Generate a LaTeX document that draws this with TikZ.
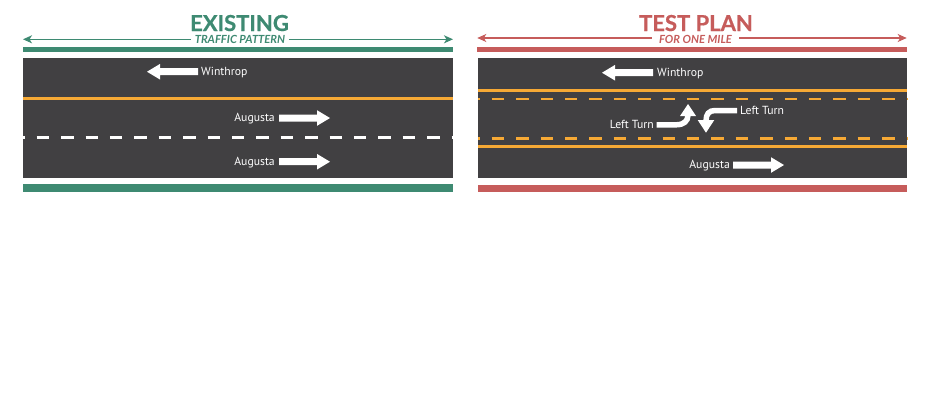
\documentclass[tikz,border=0pt]{standalone}
\usepackage{fontspec}
\setmainfont{PT Sans}
\newfontfamily\titlefont{Lato}
\newfontfamily\titleheavy{Lato}[BoldFeatures={FakeBold=0.6}]
\usetikzlibrary{arrows.meta}
\definecolor{road}{HTML}{414042}
\definecolor{exgreen}{HTML}{3E8A72}
\definecolor{tpred}{HTML}{C65C5B}
\definecolor{lineyel}{HTML}{F6A935}
\tikzset{
  lbl/.style={text=white, font=\fontsize{11.7}{12}\selectfont, inner sep=0pt},
  ttl/.style={font=\titleheavy\bfseries\fontsize{22}{24}\selectfont, inner sep=0pt, text depth=0pt},
  subttl/.style={font=\titlefont\bfseries\itshape\fontsize{11.2}{12}\selectfont, inner sep=0pt, text height=7.8pt, text depth=0pt},
  hdrline/.style={line width=1.1pt, -{Stealth[length=9pt,width=8pt,inset=2.5pt]}},
  rightarrow/.pic={\fill[white] (0,-3.5) -- (38,-3.5) -- (38,-7.8) -- (51,0) -- (38,7.8) -- (38,3.5) -- (0,3.5) -- cycle;},
  leftarrow/.pic={\fill[white] (0,-3.5) -- (-38,-3.5) -- (-38,-7.8) -- (-51,0) -- (-38,7.8) -- (-38,3.5) -- (0,3.5) -- cycle;},
  solidyel/.style={draw=lineyel, line width=2.7pt},
  dashyel/.style={draw=lineyel, line width=2.7pt, dash pattern=on 12.5pt off 11.9pt, dash phase=10.7pt},
  dashwht/.style={draw=white, line width=2.7pt, dash pattern=on 12.5pt off 11.9pt, dash phase=10.7pt},
  turnshaft/.style={draw=white, line width=5.5pt},
}
\begin{document}
\begin{tikzpicture}[x=1pt, y=-1pt]
\useasboundingbox[fill=white] (0,0) rectangle (930,400);

% ================= EXISTING =================
\node[ttl, text=exgreen, anchor=base] (ex) at (239.5,31) {EXISTING};
\node[subttl, text=exgreen, anchor=base, inner xsep=3.5pt] (tp) at (240,43.5) {TRAFFIC PATTERN};
\coordinate (exl) at (23,39.3);
\coordinate (exr) at (453,39.3);
\draw[hdrline, draw=exgreen, color=exgreen] (tp.west |- exl) -- (exl);
\draw[hdrline, draw=exgreen, color=exgreen] (tp.east |- exr) -- (exr);
\fill[exgreen] (23,46.7) rectangle (453,51.7);
\fill[road] (23,58) rectangle (453,178.3);
\fill[exgreen] (23,184) rectangle (453,192.3);
\draw[solidyel] (23,98.7) -- (453,98.7);
\draw[dashwht] (23,137.7) -- (453,137.7);

\pic at (198,71.7) {leftarrow};
\node[lbl, anchor=base west] (win1) at (201,75.6) {Winthrop};
\pic at (279,118) {rightarrow};
\node[lbl, anchor=base east] (aug1) at (275,121.9) {Augusta};
\pic at (279,161.7) {rightarrow};
\node[lbl, anchor=base east] (aug2) at (275,165.6) {Augusta};

% ================= TEST PLAN =================
\node[ttl, text=tpred, anchor=base] (tpl) at (696,31) {TEST PLAN};
\node[subttl, text=tpred, anchor=base, inner xsep=7pt] (om) at (695.5,43.3) {FOR ONE MILE};
\coordinate (tpa) at (477.3,38);
\coordinate (tpb) at (906.7,38);
\draw[hdrline, draw=tpred, color=tpred] (om.west |- tpa) -- (tpa);
\draw[hdrline, draw=tpred, color=tpred] (om.east |- tpb) -- (tpb);
\fill[tpred] (477.3,46.7) rectangle (906.7,52.3);
\fill[road] (478,58) rectangle (907,178.3);
\fill[tpred] (478,185) rectangle (907,192.3);
\draw[solidyel] (478,90.7) -- (907,90.7);
\draw[dashyel] (478,99) -- (907,99);
\draw[dashyel] (478,138.3) -- (907,138.3);
\draw[solidyel] (478,146.3) -- (907,146.3);

\pic at (653,72.7) {leftarrow};
\node[lbl, anchor=base west] (win2) at (657,76.6) {Winthrop};
\pic at (733,165) {rightarrow};
\node[lbl, anchor=base east] (aug3) at (730,168.9) {Augusta};

% left turn arrows
\node[lbl, anchor=base east] (lt1) at (654,128.5) {Left Turn};
\draw[turnshaft] (656.5,124.8) -- (676,124.8) .. controls (684,124.8) and (688,121) .. (688,115);
\fill[white] (680,116) -- (696,116) -- (688,104) -- cycle;
\node[lbl, anchor=base west] (lt2) at (740,114.5) {Left Turn};
\draw[turnshaft] (737,110.5) -- (715,110.5) .. controls (709,110.5) and (706,114) .. (706,121);
\fill[white] (697.7,120) -- (714.3,120) -- (706,132.7) -- cycle;
\end{tikzpicture}
\end{document}
